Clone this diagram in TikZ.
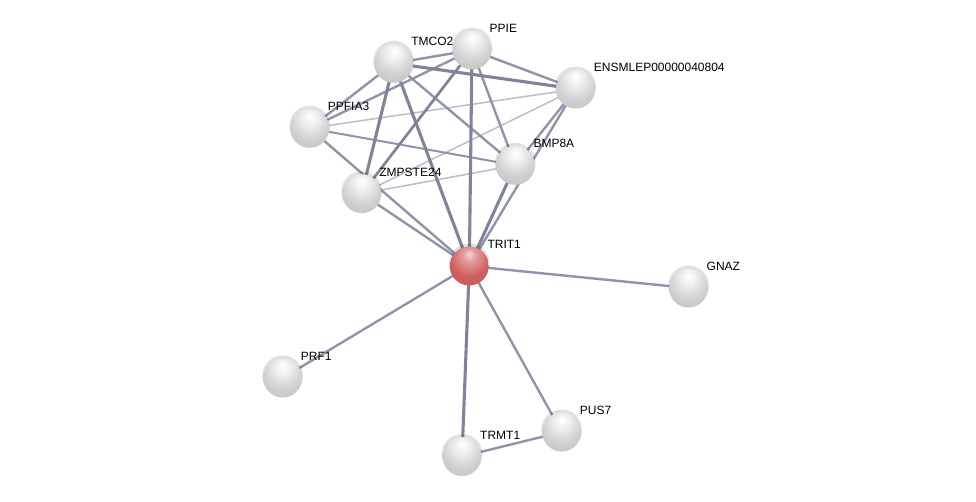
\documentclass[tikz,border=0pt]{standalone}
\usepackage{fontspec}
\setmainfont{Liberation Sans}
\definecolor{ethick}{HTML}{7F849B}
\definecolor{emed}{HTML}{9094AA}
\definecolor{elight}{HTML}{B9BDCD}
\definecolor{ballred}{HTML}{D05F5F}
\pgfdeclareradialshading{sgray}{\pgfpoint{0bp}{16bp}}{%
  color(0bp)=(white); color(8bp)=(white!95!black); color(24bp)=(white!82!black);
  color(38bp)=(white!76!black); color(45bp)=(white!68!black); color(50bp)=(white!48!black); color(70bp)=(white!48!black)}
\pgfdeclareradialshading{sred}{\pgfpoint{0bp}{16bp}}{%
  color(0bp)=(white!75!ballred); color(8bp)=(white!40!ballred); color(24bp)=(ballred);
  color(38bp)=(ballred!95!black); color(45bp)=(ballred!82!black); color(50bp)=(ballred!55!black); color(70bp)=(ballred!55!black)}
\begin{document}
\begin{tikzpicture}[x=1pt,y=-1pt,
  prot/.style={circle, minimum size=39pt, inner sep=0pt, shading=sgray},
  protred/.style={prot, shading=sred},
  shad/.style={fill=black, fill opacity=0.12},
  lab/.style={anchor=base west, inner sep=0pt, font=\fontsize{12}{14}\selectfont},
  thick3/.style={draw=ethick, line width=3.1pt},
  med2/.style={draw=emed, line width=2.4pt},
  light1/.style={draw=elight, line width=1.5pt}]
\useasboundingbox[fill=white] (0,0) rectangle (976,501);
% node positions
\coordinate (c-tmco2) at (393.7,63.3);
\coordinate (c-ppie) at (472,50);
\coordinate (c-ens) at (575.7,89);
\coordinate (c-ppfia3) at (309.7,128.3);
\coordinate (c-bmp8a) at (515.3,165.3);
\coordinate (c-zmp) at (361.7,193.7);
\coordinate (c-trit1) at (469.3,266);
\coordinate (c-gnaz) at (688.5,288);
\coordinate (c-prf1) at (282.7,378);
\coordinate (c-pus7) at (561.7,432);
\coordinate (c-trmt1) at (462,456.5);
% edges
\draw[light1] (c-ppfia3) -- (c-ens);
\draw[light1] (c-zmp) -- (c-ens);
\draw[light1] (c-zmp) -- (c-bmp8a);
\draw[med2, line width=2pt] (c-ppfia3) -- (c-bmp8a);
\draw[med2] (c-tmco2) -- (c-ppie);
\draw[med2] (c-tmco2) -- (c-ppfia3);
\draw[med2] (c-tmco2) -- (c-bmp8a);
\draw[med2] (c-ppie) -- (c-bmp8a);
\draw[med2] (c-ppie) -- (c-ens);
\draw[med2] (c-ppie) -- (c-ppfia3);
\draw[med2] (c-ens) -- (c-bmp8a);
\draw[med2] (c-ens) -- (c-trit1);
\draw[med2] (c-ppfia3) -- (c-trit1);
\draw[med2] (c-zmp) -- (c-trit1);
\draw[med2] (c-trit1) -- (c-gnaz);
\draw[med2] (c-trit1) -- (c-prf1);
\draw[med2] (c-trit1) -- (c-pus7);
\draw[med2] (c-pus7) -- (c-trmt1);
\draw[thick3, line width=2.7pt] (c-ppie) -- (c-zmp);
\draw[thick3] (c-tmco2) -- (c-ens);
\draw[thick3] (c-tmco2) -- (c-zmp);
\draw[thick3] (c-tmco2) -- (c-trit1);
\draw[thick3] (c-ppie) -- (c-trit1);
\draw[thick3] (c-bmp8a) -- (c-trit1);
\draw[thick3] (c-trit1) -- (c-trmt1);
% shadows
\foreach \c in {tmco2,ppie,ens,ppfia3,bmp8a,zmp,trit1,gnaz,prf1,pus7,trmt1}
  \fill[shad] ([yshift=2.2pt]c-\c) circle[radius=20.3pt];
% nodes
\node[prot] (tmco2) at (c-tmco2) {};
\node[prot] (ppie) at (c-ppie) {};
\node[prot] (ens) at (c-ens) {};
\node[prot] (ppfia3) at (c-ppfia3) {};
\node[prot] (bmp8a) at (c-bmp8a) {};
\node[prot] (zmp) at (c-zmp) {};
\node[protred] (trit1) at (c-trit1) {};
\node[prot] (gnaz) at (c-gnaz) {};
\node[prot] (prf1) at (c-prf1) {};
\node[prot] (pus7) at (c-pus7) {};
\node[prot] (trmt1) at (c-trmt1) {};
% labels
\node[lab] (l-tmco2) at ([shift={(17.5,-17.5)}]tmco2.center) {TMCO2};
\node[lab] (l-ppie) at ([shift={(17.5,-17.5)}]ppie.center) {PPIE};
\node[lab] (l-ens) at ([shift={(18,-17.5)}]ens.center) {ENSMLEP00000040804};
\node[lab] (l-ppfia3) at ([shift={(18,-17.5)}]ppfia3.center) {PPFIA3};
\node[lab] (l-bmp8a) at ([shift={(18,-17.5)}]bmp8a.center) {BMP8A};
\node[lab] (l-zmp) at ([shift={(17.5,-17.5)}]zmp.center) {ZMPSTE24};
\node[lab] (l-trit1) at ([shift={(18,-18)}]trit1.center) {TRIT1};
\node[lab] (l-gnaz) at ([shift={(18,-17.5)}]gnaz.center) {GNAZ};
\node[lab] (l-prf1) at ([shift={(18,-17.5)}]prf1.center) {PRF1};
\node[lab] (l-pus7) at ([shift={(18,-17.5)}]pus7.center) {PUS7};
\node[lab] (l-trmt1) at ([shift={(18,-17.5)}]trmt1.center) {TRMT1};
\end{tikzpicture}
\end{document}
